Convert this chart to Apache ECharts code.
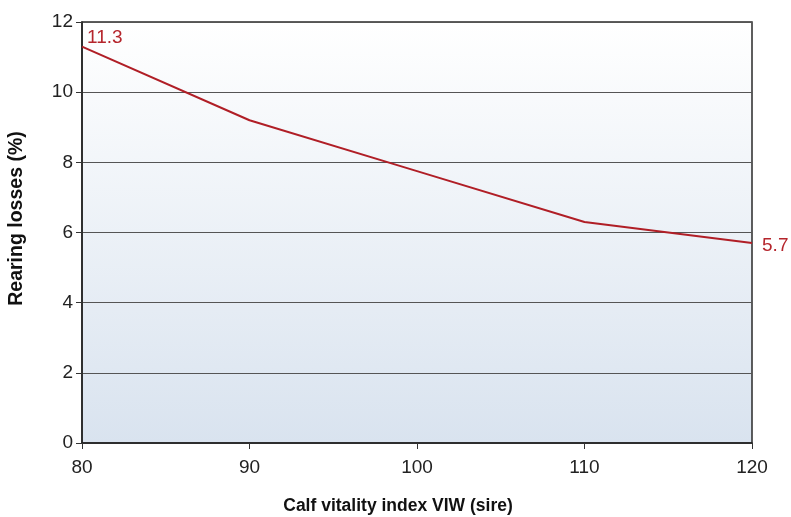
<!DOCTYPE html>
<html>
<head>
<meta charset="utf-8">
<script src="https://cdn.jsdelivr.net/npm/echarts@6/dist/echarts.min.js"></script>
<style>
  html, body { margin: 0; padding: 0; background: #ffffff; }
  #chart { width: 791px; height: 517px; }
</style>
</head>
<body>
<div id="chart"></div>
<script>
// Calf vitality index of the sire vs. rearing losses
const vitalityIndex = [80, 90, 100, 110, 120];
const rearingLosses = [11.3, 9.2, 7.75, 6.3, 5.7];
const xTicks = { min: 80, max: 120, step: 10 };
const yTicks = { min: 0, max: 12, step: 2 };
const xTitle = 'Calf vitality index VIW (sire)';
const yTitle = 'Rearing losses (%)';

const lineColor = '#b01e26';
const labelColor = '#b5252c';
const font = 'Liberation Sans, Arial, sans-serif';

// only the end points carry a value label
const lastIdx = vitalityIndex.length - 1;
const seriesData = vitalityIndex.map((x, i) => {
  const item = { value: [x, rearingLosses[i]] };
  if (i === 0) {
    item.label = { show: true, position: 'right', offset: [0, -9] };
  } else if (i === lastIdx) {
    item.label = { show: true, position: 'right', offset: [5, 3] };
  }
  return item;
});

const chart = echarts.init(document.getElementById('chart'), null, { renderer: 'canvas' });
chart.setOption({
  animation: false,
  backgroundColor: '#ffffff',
  grid: {
    left: 82, right: 39, top: 22, bottom: 74,
    outerBoundsMode: 'none',
    containLabel: false,
    show: true,
    borderColor: '#2a2a2a',
    borderWidth: 1.5,
    backgroundColor: {
      type: 'linear', x: 0, y: 0, x2: 0, y2: 1,
      colorStops: [
        { offset: 0, color: '#ffffff' },
        { offset: 1, color: '#d9e3ef' }
      ]
    }
  },
  xAxis: {
    type: 'value',
    min: xTicks.min, max: xTicks.max, interval: xTicks.step,
    name: xTitle,
    nameLocation: 'middle',
    nameGap: 54,
    nameTextStyle: {
      fontFamily: font, fontSize: 17.5, fontWeight: 'bold', color: '#111',
      padding: [0, 38, 0, 0]
    },
    axisLine: { show: true, lineStyle: { color: '#222', width: 1.5 } },
    axisTick: { show: true, length: 6, lineStyle: { color: '#333' } },
    axisLabel: { fontFamily: font, fontSize: 19, color: '#222', margin: 15 },
    splitLine: { show: false }
  },
  yAxis: {
    type: 'value',
    min: yTicks.min, max: yTicks.max, interval: yTicks.step,
    name: yTitle,
    nameLocation: 'middle',
    nameGap: 55,
    nameTextStyle: {
      fontFamily: font, fontSize: 19.5, fontWeight: 'bold', color: '#111',
      padding: [0, 0, 0, 28]
    },
    axisLine: { show: true, lineStyle: { color: '#222', width: 1.5 } },
    axisTick: { show: true, length: 6, lineStyle: { color: '#333' } },
    axisLabel: { fontFamily: font, fontSize: 19, color: '#222', margin: 9 },
    splitLine: { show: true, lineStyle: { color: '#555', width: 1 } }
  },
  series: [{
    type: 'line',
    data: seriesData,
    symbol: 'circle',
    symbolSize: 0.1,
    showSymbol: true,
    itemStyle: { color: lineColor },
    smooth: false,
    lineStyle: { color: lineColor, width: 2 },
    label: {
      show: false,
      fontFamily: font,
      fontSize: 19,
      color: labelColor,
      formatter: p => p.value[1].toFixed(1)
    },
    z: 5
  }]
});
</script>
</body>
</html>
